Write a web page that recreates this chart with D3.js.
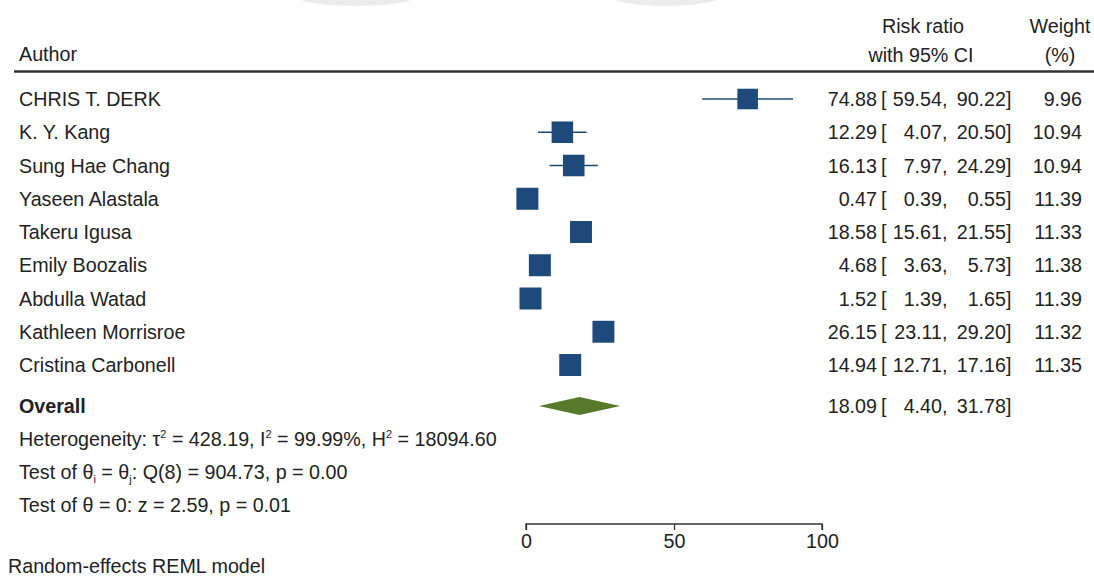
<!DOCTYPE html>
<html>
<head>
<meta charset="utf-8">
<script src="https://cdn.jsdelivr.net/npm/d3@7"></script>
<style>
  html, body { margin: 0; padding: 0; background: #fff; }
  svg text { font-family: "Liberation Sans", Arial, Helvetica, sans-serif; fill: #222; }
</style>
</head>
<body>
<svg id="chart" width="1094" height="585"></svg>
<script>
// ---- data ----
const authors = ["CHRIS T. DERK", "K. Y. Kang", "Sung Hae Chang", "Yaseen Alastala", "Takeru Igusa",
                 "Emily Boozalis", "Abdulla Watad", "Kathleen Morrisroe", "Cristina Carbonell"];
const estimates = [74.88, 12.29, 16.13, 0.47, 18.58, 4.68, 1.52, 26.15, 14.94];
const lowerCI   = [59.54, 4.07, 7.97, 0.39, 15.61, 3.63, 1.39, 23.11, 12.71];
const upperCI   = [90.22, 20.50, 24.29, 0.55, 21.55, 5.73, 1.65, 29.20, 17.16];
const weights   = [9.96, 10.94, 10.94, 11.39, 11.33, 11.38, 11.39, 11.32, 11.35];
const overall   = {label: "Overall", est: 18.09, lo: 4.40, hi: 31.78};
const axisTicks = [0, 50, 100];

const svg = d3.select("#chart");
const fs = 19.7;
const LX = 19;

// faint artefacts at top edge
svg.append("ellipse").attr("cx", 356).attr("cy", -4).attr("rx", 60).attr("ry", 10).attr("fill", "#ececec");
svg.append("ellipse").attr("cx", 666).attr("cy", -4).attr("rx", 55).attr("ry", 10).attr("fill", "#ececec");

// scales
const x = d3.scaleLinear().domain([0, 100]).range([526, 822]);
const y = d3.scaleLinear().domain([0, 8]).range([99, 365]);
const yOverall = 406;
const sz = d3.scaleSqrt().domain([0, 11.39]).range([0, 22]);

// header
svg.append("text").attr("x", LX).attr("y", 61).attr("font-size", fs).text("Author");
svg.append("text").attr("x", 923).attr("y", 33).attr("font-size", fs).attr("text-anchor", "middle").text("Risk ratio");
svg.append("text").attr("x", 921).attr("y", 62).attr("font-size", fs).attr("text-anchor", "middle").text("with 95% CI");
svg.append("text").attr("x", 1060).attr("y", 33).attr("font-size", fs).attr("text-anchor", "middle").text("Weight");
svg.append("text").attr("x", 1060).attr("y", 62).attr("font-size", fs).attr("text-anchor", "middle").text("(%)");
svg.append("line").attr("x1", 14).attr("x2", 1094).attr("y1", 71.5).attr("y2", 71.5)
  .attr("stroke", "#333").attr("stroke-width", 2.5);

const fmt = d3.format(".2f");
const rows = authors.map((a, i) => ({a, e: estimates[i], lo: lowerCI[i], hi: upperCI[i], w: weights[i], i}));

function ciText(parent, cy, e, lo, hi) {
  parent.append("text").attr("x", 877).attr("y", cy + 7).attr("font-size", fs).attr("text-anchor", "end").text(fmt(e));
  parent.append("text").attr("x", 881).attr("y", cy + 7).attr("font-size", fs).text("[");
  parent.append("text").attr("x", 942).attr("y", cy + 7).attr("font-size", fs).attr("text-anchor", "end").text(fmt(lo));
  parent.append("text").attr("x", 942).attr("y", cy + 7).attr("font-size", fs).text(",");
  parent.append("text").attr("x", 1006).attr("y", cy + 7).attr("font-size", fs).attr("text-anchor", "end").text(fmt(hi));
  parent.append("text").attr("x", 1006).attr("y", cy + 7).attr("font-size", fs).text("]");
}

const g = svg.append("g");
rows.forEach(d => {
  const cy = y(d.i);
  g.append("text").attr("x", LX).attr("y", cy + 7).attr("font-size", fs).text(d.a);
  g.append("line").attr("x1", x(d.lo)).attr("x2", x(d.hi)).attr("y1", cy).attr("y2", cy)
    .attr("stroke", "#1f4a78").attr("stroke-width", 1.6);
  const s = sz(d.w);
  g.append("rect").attr("x", x(d.e) - s / 2).attr("y", cy - s / 2).attr("width", s).attr("height", s)
    .attr("fill", "#1d4a7a");
  ciText(g, cy, d.e, d.lo, d.hi);
  g.append("text").attr("x", 1082).attr("y", cy + 7).attr("font-size", fs).attr("text-anchor", "end").text(fmt(d.w));
});

// overall
svg.append("text").attr("x", LX).attr("y", yOverall + 7).attr("font-size", fs).attr("font-weight", "bold").text(overall.label);
svg.append("path")
  .attr("d", `M${x(overall.lo)},${yOverall} L${x(overall.est)},${yOverall - 9} L${x(overall.hi)},${yOverall} L${x(overall.est)},${yOverall + 9} Z`)
  .attr("fill", "#56792a");
ciText(svg, yOverall, overall.est, overall.lo, overall.hi);

// stats lines
function rich(yPos, parts) {
  const t = svg.append("text").attr("x", LX).attr("y", yPos).attr("font-size", fs);
  parts.forEach(p => {
    const ts = t.append("tspan").text(p.t);
    if (p.sup) ts.attr("font-size", 11).attr("dy", -8);
    if (p.sub) ts.attr("font-size", 11).attr("dy", 4);
    if (p.back) ts.attr("dy", p.back);
  });
}
rich(446, [{t: "Heterogeneity: τ"}, {t: "2", sup: true}, {t: " = 428.19, I", back: 8}, {t: "2", sup: true},
           {t: " = 99.99%, H", back: 8}, {t: "2", sup: true}, {t: " = 18094.60", back: 8}]);
rich(479, [{t: "Test of θ"}, {t: "i", sub: true}, {t: " = θ", back: -4}, {t: "j", sub: true},
           {t: ": Q(8) = 904.73, p = 0.00", back: -4}]);
rich(512, [{t: "Test of θ = 0: z = 2.59, p = 0.01"}]);

// axis
const axis = d3.axisBottom(x).tickValues(axisTicks).tickSize(6).tickPadding(4).tickFormat(d3.format("d"));
const ax = svg.append("g").attr("transform", "translate(0,524)").call(axis);
ax.select(".domain").attr("stroke", "#333").attr("stroke-width", 1.3).attr("d", `M${x(0)},6V0H${x(100)}V6`);
ax.selectAll(".tick line").attr("stroke", "#333").attr("stroke-width", 1.3);
ax.selectAll(".tick text").attr("font-size", fs).attr("fill", "#222")
  .style("font-family", '"Liberation Sans", Arial, sans-serif');

svg.append("text").attr("x", 8).attr("y", 573).attr("font-size", fs).text("Random-effects REML model");
</script>
</body>
</html>
